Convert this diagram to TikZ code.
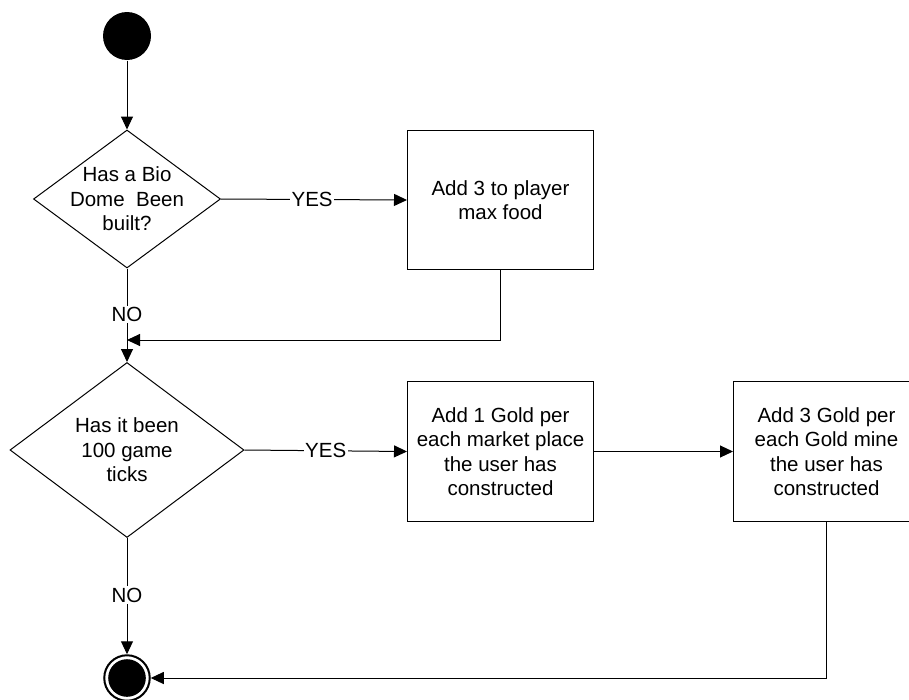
\documentclass[tikz,border=0pt]{standalone}
\usepackage{fontspec}
\setmainfont{Liberation Sans}
\usetikzlibrary{shapes.geometric,arrows.meta}
\tikzset{
  lbl/.style={font=\fontsize{20.5}{24.5}\selectfont, align=center},
  decision/.style={draw, diamond, inner sep=0pt},
  action/.style={draw, rectangle, lbl, inner sep=0pt, anchor=north west,
                 minimum width=186pt, minimum height=140pt},
  guard/.style={lbl, fill=white, inner sep=1.5pt},
  flow/.style={-{Triangle[length=13pt,width=12pt]}},
}
\begin{document}
\begin{tikzpicture}[x=1pt,y=-1pt,line width=1pt]
\useasboundingbox (0,0) rectangle (909,699);
\fill[white] (0,0) rectangle (909,699);

% initial and final states
\node[circle, fill=black, minimum size=48pt, inner sep=0pt] (start) at (127,36) {};
\node[circle, draw, line width=2pt, minimum size=45.5pt, inner sep=0pt] (stop) at (127,678) {};
\fill (stop.center) circle (18.8pt);

% decisions: fixed-size outline, question set on top of it
\node[decision, minimum width=187pt, minimum height=138pt] (q1) at (127,199) {};
\node[lbl] (q1text) at (q1.center) {Has a Bio\\Dome~~Been\\built?};
\node[decision, minimum width=234pt, minimum height=175pt] (q2) at (127,450) {};
\node[lbl] (q2text) at (q2.center) {Has it been\\100 game\\ticks};

% actions
\node[action, minimum height=139pt] (a1) at (407,130) {Add 3 to player\\max food};
\node[action] (a2) at (407,381) {Add 1 Gold per\\each market place\\the user has\\constructed};
\node[action] (a3) at (733,381) {Add 3 Gold per\\each Gold mine\\the user has\\constructed};

\coordinate (merge) at (127,340);

% connectors
\draw[flow] (start) -- (q1.north);
\draw[flow] (q1.east) -- node[guard, pos=0.49] {YES} (a1.west);
\draw[flow] (q1.south) -- node[guard, pos=0.49] {NO} (q2.north);
\draw[flow] (a1.south) |- (merge);
\draw[flow] (q2.east) -- node[guard, pos=0.5] {YES} (a2.west);
\draw[flow] (a2.east) -- (a3.west);
\draw[flow] (q2.south) -- node[guard, pos=0.49] {NO} (stop.north);
\draw[flow] (a3.south) |- (stop.east);
\end{tikzpicture}
\end{document}
